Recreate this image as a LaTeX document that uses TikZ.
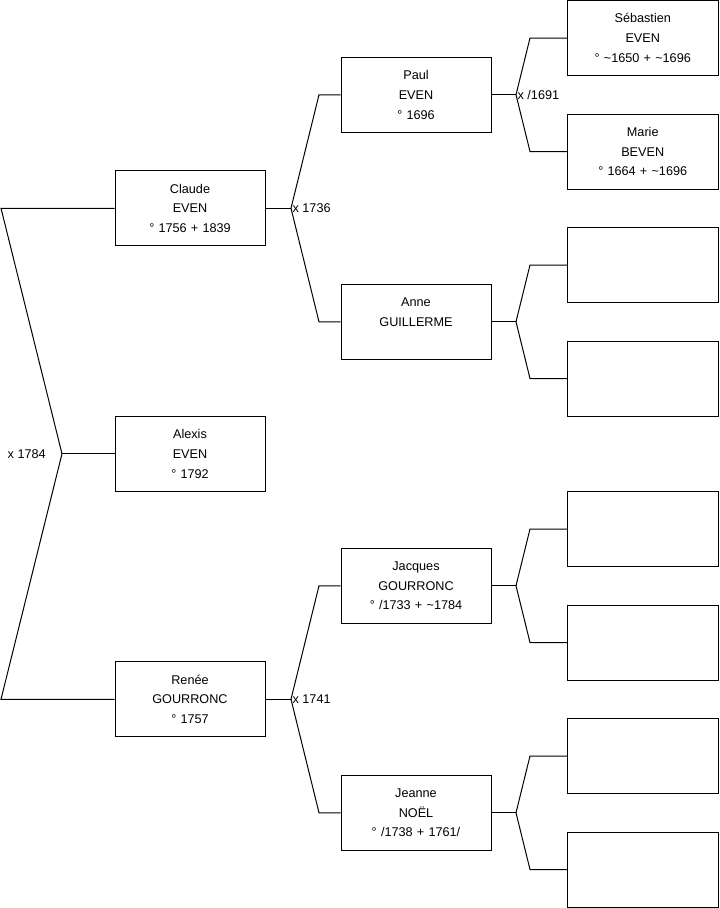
\documentclass[tikz,border=0pt]{standalone}
\usepackage{fontspec}
\setmainfont{Liberation Sans}
\usetikzlibrary{positioning}

\begin{document}
\begin{tikzpicture}[
			x=0.75pt,y=-0.75pt,
			p/.style={
				draw=black,
				line width=0.75pt,
				minimum width=112.5pt,
				minimum height=56.25pt,
				text width=105pt,
				inner sep=0pt,
				align=center,
				font=\fontsize{9.5}{14.8}\selectfont
			},
			q/.style={
				p,
				minimum width=113.25pt
			},
			link/.style={line width=0.75pt},
			lbl/.style={inner sep=1pt,font=\fontsize{9.5}{11}\selectfont}
			]
			\useasboundingbox (0,0) rectangle (719,908);
			% generation 1 and 2
			\node[p](alexis) at (190,453.75){Alexis\\EVEN\\° 1792};
			\node[p](claude) at (190,208.25){Claude\\EVEN\\° 1756 + 1839};
			\node[p](renee) at (190,699.25){Renée\\GOURRONC\\° 1757};
			% generation 3
			\node[p](paul) at (416,94.75){Paul\\EVEN\\° 1696};
			\node[p](anne) at (416,321.75){Anne\\GUILLERME\\~};
			\node[p](jacques) at (416,585.75){Jacques\\GOURRONC\\° /1733 + \textasciitilde1784};
			\node[p](jeanne) at (416,812.75){Jeanne\\NOËL\\° /1738 + 1761/};
			% generation 4
			\node[q](sebastien) at (642.75,38){Sébastien\\EVEN\\° \textasciitilde1650 + \textasciitilde1696};
			\node[q](marie) at (642.75,151.5){Marie\\BEVEN\\° 1664 + \textasciitilde1696};
			\node[q](anneF) at (642.75,265){};
			\node[q](anneM) at (642.75,378.5){};
			\node[q](jacquesF) at (642.75,529){};
			\node[q](jacquesM) at (642.75,642.5){};
			\node[q](jeanneF) at (642.75,756){};
			\node[q](jeanneM) at (642.75,869.5){};
			% forks
			\coordinate(xa) at (62,453.75);
			\coordinate(xa1) at (1,208.25);
			\coordinate(xa2) at (1,699.25);
			\coordinate(xc) at (291,208.25);
			\coordinate(xc1) at (319,94.75);
			\coordinate(xc2) at (319,321.75);
			\coordinate(xr) at (291,699.25);
			\coordinate(xr1) at (319,585.75);
			\coordinate(xr2) at (319,812.75);
			\coordinate(xp) at (516,94.75);
			\coordinate(xp1) at (530,38);
			\coordinate(xp2) at (530,151.5);
			\coordinate(xan) at (516,321.75);
			\coordinate(xan1) at (530,265);
			\coordinate(xan2) at (530,378.5);
			\coordinate(xj) at (516,585.75);
			\coordinate(xj1) at (530,529);
			\coordinate(xj2) at (530,642.5);
			\coordinate(xn) at (516,812.75);
			\coordinate(xn1) at (530,756);
			\coordinate(xn2) at (530,869.5);
			\draw[link](alexis)--(xa);
			\draw[link](xa)--(xa1)--(claude);
			\draw[link](xa)--(xa2)--(renee);
			\draw[link](claude)--(xc);
			\draw[link](xc)--(xc1)--(paul);
			\draw[link](xc)--(xc2)--(anne);
			\draw[link](renee)--(xr);
			\draw[link](xr)--(xr1)--(jacques);
			\draw[link](xr)--(xr2)--(jeanne);
			\draw[link](paul)--(xp);
			\draw[link](xp)--(xp1)--(sebastien);
			\draw[link](xp)--(xp2)--(marie);
			\draw[link](anne)--(xan);
			\draw[link](xan)--(xan1)--(anneF);
			\draw[link](xan)--(xan2)--(anneM);
			\draw[link](jacques)--(xj);
			\draw[link](xj)--(xj1)--(jacquesF);
			\draw[link](xj)--(xj2)--(jacquesM);
			\draw[link](jeanne)--(xn);
			\draw[link](xn)--(xn1)--(jeanneF);
			\draw[link](xn)--(xn2)--(jeanneM);
			% marriages
			\node[lbl,left=11pt of xa](ma){x 1784};
			\node[lbl,anchor=west](mc) at (xc){x 1736};
			\node[lbl,anchor=west](mr) at (xr){x 1741};
			\node[lbl,anchor=west](mp) at (xp){x /1691};
		\end{tikzpicture}
\end{document}
